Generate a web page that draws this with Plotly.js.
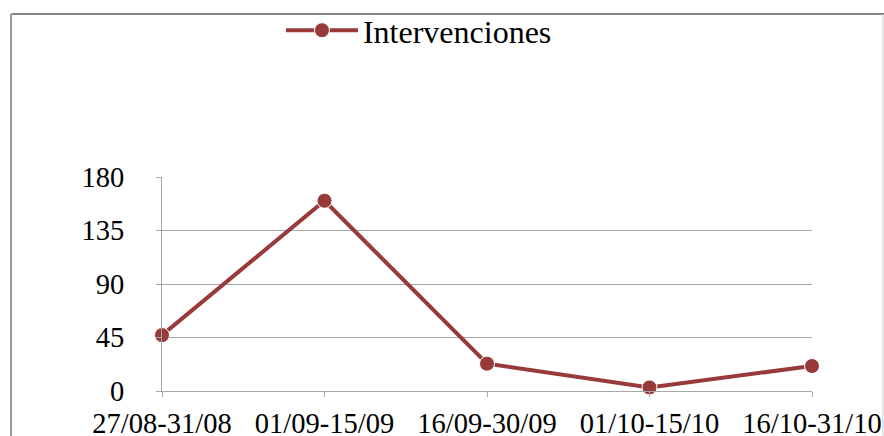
<!DOCTYPE html>
<html>
<head>
<meta charset="utf-8">
<script src="https://cdn.plot.ly/plotly-3.0.1.min.js"></script>
<style>
  html, body { margin: 0; padding: 0; background: #ffffff; }
  #chart { width: 884px; height: 436px; }
</style>
</head>
<body>
<div id="chart"></div>
<script>
// Intervenciones por quincena
const periods = ["27/08-31/08", "01/09-15/09", "16/09-30/09", "01/10-15/10", "16/10-31/10"];
const interventions = [47, 160, 23, 3, 21];
const yTicks = [0, 45, 90, 135, 180];

const serif = "Liberation Serif, Times New Roman, serif";
const lineColor = "#983a3a";
const gridColor = "#a6a6a6";

const trace = {
  type: "scatter",
  mode: "lines+markers",
  name: "Intervenciones",
  x: periods.map((_, i) => i),
  y: interventions,
  line: { color: lineColor, width: 4 },
  marker: { color: lineColor, size: 15, line: { color: "#ffffff", width: 1 } },
  cliponaxis: false,
  hoverinfo: "skip"
};

const layout = {
  width: 884,
  height: 436,
  margin: { l: 162, r: 72, t: 177, b: 45, autoexpand: false },
  paper_bgcolor: "#ffffff",
  plot_bgcolor: "#ffffff",
  font: { family: serif, color: "#000000", size: 28 },
  showlegend: true,
  legend: {
    orientation: "h",
    x: 0.183, xanchor: "left",
    y: 1.685, yanchor: "middle",
    font: { family: serif, size: 32, color: "#000000" },
    itemwidth: 72,
    bgcolor: "rgba(0,0,0,0)"
  },
  xaxis: {
    range: [0, 4],
    tickmode: "array",
    tickvals: periods.map((_, i) => i),
    ticktext: periods,
    showgrid: false,
    zeroline: false,
    showline: true,
    linecolor: gridColor,
    linewidth: 1,
    ticks: "outside",
    ticklen: 5,
    tickcolor: gridColor,
    ticklabelstandoff: 2,
    tickfont: { family: serif, size: 28.5, color: "#000000" },
    fixedrange: true
  },
  yaxis: {
    range: [0, 180],
    tickmode: "array",
    tickvals: yTicks,
    ticktext: yTicks.map(String),
    showgrid: true,
    gridcolor: gridColor,
    gridwidth: 1,
    zeroline: false,
    showline: true,
    linecolor: gridColor,
    linewidth: 1,
    ticks: "outside",
    ticklen: 5,
    tickcolor: gridColor,
    ticklabelstandoff: 26,
    tickfont: { family: serif, size: 28.5, color: "#000000" },
    fixedrange: true
  },
  shapes: [
    // chart frame
    { type: "line", xref: "paper", yref: "paper", x0: -0.232, x1: 1.2, y0: 1.762, y1: 1.762,
      line: { color: "#888888", width: 2 } },
    { type: "line", xref: "paper", yref: "paper", x0: -0.2323, x1: -0.2323, y0: 1.762, y1: -0.3,
      line: { color: "#999999", width: 2 } },
    { type: "line", xref: "paper", yref: "paper", x0: 1.1092, x1: 1.1092, y0: 1.762, y1: -0.3,
      line: { color: "#c8c8c8", width: 1 } }
  ]
};

Plotly.newPlot("chart", [trace], layout, { staticPlot: true, displayModeBar: false });
</script>
</body>
</html>
